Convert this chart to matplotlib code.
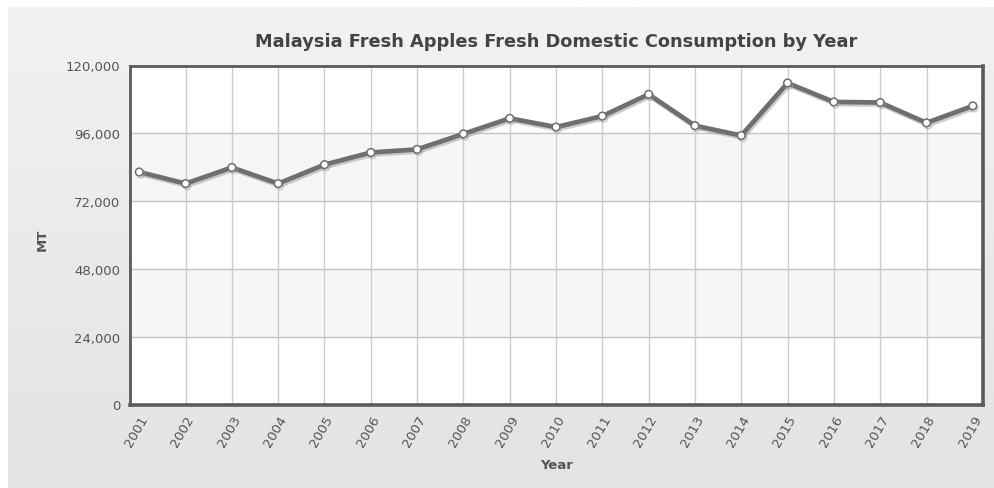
import matplotlib
matplotlib.use('Agg')
import matplotlib.pyplot as plt
import matplotlib.patheffects as pe
import numpy as np

years = list(range(2001, 2020))
consumption = [82300, 78200, 83900, 78200, 84900, 89200, 90300, 95800, 101300,
               98200, 102100, 109800, 98700, 95200, 113800, 107100, 106900, 99700, 105700]
y_ticks = [0, 24000, 48000, 72000, 96000, 120000]

title = 'Malaysia Fresh Apples Fresh Domestic Consumption by Year'
x_label = 'Year'
y_label = 'MT'

fig = plt.figure(figsize=(9.95, 4.89), dpi=100)
fig.patch.set_facecolor('white')

# gray panel behind the chart with a soft vertical gradient
bg = fig.add_axes([8 / 995, 0, 1 - 8 / 995, 1 - 8 / 489], zorder=-10)
grad = np.linspace(0, 1, 256).reshape(-1, 1)
bg.imshow(grad, aspect='auto', cmap=matplotlib.colors.LinearSegmentedColormap.from_list(
    'bg', ['#f2f2f2', '#e3e3e3']), extent=[0, 1, 0, 1], origin='upper')
bg.axis('off')

ax = fig.add_axes([130 / 995, 1 - 405.5 / 489, (983 - 130) / 995, (405.5 - 66.5) / 489])
ax.set_facecolor('white')

# alternating bands
for i in range(len(y_ticks) - 1):
    if i % 2 == 1:
        ax.axhspan(y_ticks[i], y_ticks[i + 1], color='#f6f6f6', zorder=0)

for y in y_ticks[1:-1]:
    ax.axhline(y, color='#c4c4c4', lw=1, zorder=1)
for x in years[1:-1]:
    ax.axvline(x, color='#cccccc', lw=1, zorder=1)

ax.plot(years, consumption, color='#6f6f6f', lw=3.4, zorder=3,
        marker='o', markersize=5.5, markerfacecolor='white',
        markeredgecolor='#6f6f6f', markeredgewidth=1.1,
        path_effects=[pe.SimpleLineShadow(offset=(1, -1.5), shadow_color='#999999', alpha=0.5),
                      pe.Normal()])

ax.set_xlim(2000.8, 2019.22)
ax.set_ylim(0, 120000)
ax.set_yticks(y_ticks)
ax.set_yticklabels([f'{v:,}' for v in y_ticks], fontsize=9.5, color='#555555')
ax.set_xticks(years)
ax.set_xticklabels([str(y) for y in years], fontsize=9.5, color='#555555',
                   rotation=60, ha='right', va='top', rotation_mode='anchor')
ax.tick_params(axis='both', length=0)
ax.tick_params(axis='y', pad=7)
ax.tick_params(axis='x', pad=6)

for side in ['left', 'top']:
    ax.spines[side].set_color('#5a5a5a')
    ax.spines[side].set_linewidth(2)
for side in ['right', 'bottom']:
    ax.spines[side].set_color('#5a5a5a')
    ax.spines[side].set_linewidth(2.6)

fig.text((130 + 983) / 2 / 995, 1 - 42 / 489, title, ha='center', va='center',
         fontsize=12.8, fontweight='bold', color='#444444')
fig.text(557 / 995, 1 - 466 / 489, x_label, ha='center', va='center',
         fontsize=9.5, fontweight='bold', color='#555555')
fig.text(42 / 995, 1 - 240 / 489, y_label, ha='center', va='center', rotation=90,
         fontsize=9.5, fontweight='bold', color='#555555')

fig.savefig('out.png', dpi=100)
